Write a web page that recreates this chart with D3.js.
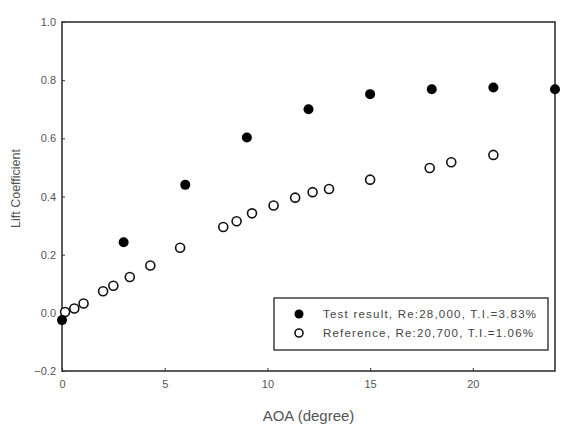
<!DOCTYPE html>
<html lang="en">
<head>
    <meta charset="UTF-8">
    <title>Lift Coefficient vs AOA</title>
    <script src="https://d3js.org/d3.v7.min.js"></script>
    <style>
        body {
            margin: 0;
            padding: 0;
            background-color: #fff;
            font-family: "Liberation Sans", Arial, sans-serif;
        }
        .tick text {
            fill: #555;
            font-size: 11px;
        }
        .axis-title {
            fill: #555;
            font-size: 15px;
        }
        .legend-text {
            fill: #444;
            font-size: 11.5px;
        }
    </style>
</head>
<body>
    <svg width="565" height="429"></svg>
    <script>
        // Test result, Re:28,000, T.I.=3.83%
        const testAoa = [0, 3, 6, 9, 12, 15, 18, 21, 24];
        const testCl = [-0.025, 0.243, 0.44, 0.603, 0.70, 0.752, 0.769, 0.775, 0.769];

        // Reference, Re:20,700, T.I.=1.06%
        const refAoa = [0.15, 0.6, 1.05, 2.0, 2.5, 3.3, 4.3, 5.75, 7.85, 8.5, 9.25, 10.3, 11.35, 12.2, 13.0, 15.0, 17.9, 18.95, 21.0];
        const refCl = [0.003, 0.015, 0.032, 0.074, 0.093, 0.123, 0.163, 0.224, 0.295, 0.315, 0.342, 0.369, 0.396, 0.415, 0.426, 0.458, 0.498, 0.518, 0.543];

        const xTicks = [0, 5, 10, 15, 20];
        const yTicks = [-0.2, 0.0, 0.2, 0.4, 0.6, 0.8, 1.0];
        const legendLabels = ["Test result, Re:28,000, T.I.=3.83%", "Reference, Re:20,700, T.I.=1.06%"];

        const svg = d3.select("svg"),
            margin = { top: 22, right: 10, bottom: 58, left: 62 },
            width = svg.attr("width") - margin.left - margin.right,
            height = svg.attr("height") - margin.top - margin.bottom;

        const g = svg.append("g")
            .attr("transform", `translate(${margin.left},${margin.top})`);

        // Scales
        const x = d3.scaleLinear().domain([0, 24]).range([0, 493]);
        const y = d3.scaleLinear().domain([-0.2, 1.0]).range([height, 0]);

        // Axes with inward ticks
        const xAxis = g.append("g")
            .attr("transform", `translate(0,${height})`)
            .call(d3.axisBottom(x).tickValues(xTicks).tickSizeInner(-3).tickSizeOuter(0).tickPadding(9).tickFormat(d3.format("d")));

        const yAxis = g.append("g")
            .call(d3.axisLeft(y).tickValues(yTicks).tickSizeInner(-3).tickSizeOuter(0).tickPadding(6).tickFormat(d3.format(".1f")));

        [xAxis, yAxis].forEach(a => {
            a.select(".domain").remove();
            a.selectAll(".tick line").attr("stroke", "#333");
        });

        // Frame
        g.append("rect")
            .attr("x", 0)
            .attr("y", 0)
            .attr("width", x(24))
            .attr("height", height)
            .attr("fill", "none")
            .attr("stroke", "#333")
            .attr("stroke-width", 1.6);

        // Axis titles
        svg.append("text")
            .attr("class", "axis-title")
            .attr("x", margin.left + x(24) / 2)
            .attr("y", 421)
            .attr("text-anchor", "middle")
            .text("AOA (degree)");

        svg.append("text")
            .attr("class", "axis-title")
            .attr("transform", `translate(20,${margin.top + height / 2 - 8}) rotate(-90)`)
            .attr("text-anchor", "middle")
            .style("font-size", "12.5px")
            .text("Lift Coefficient");

        // Reference points (open)
        g.selectAll(".ref")
            .data(refAoa.map((a, i) => [a, refCl[i]]))
            .enter().append("circle")
            .attr("class", "ref")
            .attr("cx", d => x(d[0]))
            .attr("cy", d => y(d[1]))
            .attr("r", 4.5)
            .attr("fill", "#fff")
            .attr("stroke", "#111")
            .attr("stroke-width", 1.6);

        // Test points (filled)
        g.selectAll(".test")
            .data(testAoa.map((a, i) => [a, testCl[i]]))
            .enter().append("circle")
            .attr("class", "test")
            .attr("cx", d => x(d[0]))
            .attr("cy", d => y(d[1]))
            .attr("r", 5)
            .attr("fill", "#000");

        // Legend
        const legend = svg.append("g").attr("transform", "translate(274,298)");
        legend.append("rect")
            .attr("width", 274)
            .attr("height", 52)
            .attr("fill", "#fff")
            .attr("stroke", "#333")
            .attr("stroke-width", 1.4);

        legendLabels.forEach((label, i) => {
            const ly = 16 + i * 19;
            legend.append("circle")
                .attr("cx", 25)
                .attr("cy", ly)
                .attr("r", i === 0 ? 4.5 : 4)
                .attr("fill", i === 0 ? "#000" : "#fff")
                .attr("stroke", "#111")
                .attr("stroke-width", i === 0 ? 0 : 1.6);
            legend.append("text")
                .attr("class", "legend-text")
                .attr("x", 49)
                .attr("y", ly)
                .attr("dy", "0.35em")
                .attr("textLength", i === 0 ? 213 : 210)
                .attr("lengthAdjust", "spacing")
                .text(label);
        });
    </script>
</body>
</html>
